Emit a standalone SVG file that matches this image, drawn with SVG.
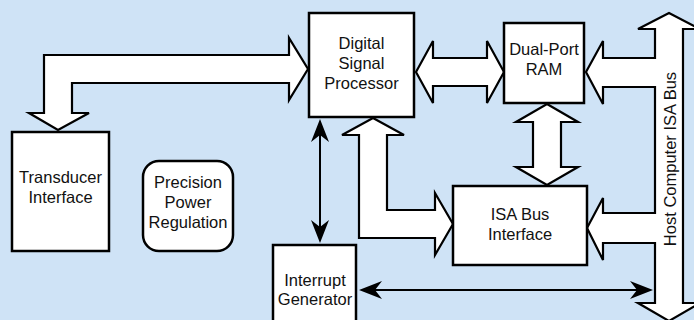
<svg xmlns="http://www.w3.org/2000/svg" width="694" height="320" viewBox="0 0 694 320">
<defs>
<style>
.box{fill:#fff;stroke:#000;stroke-width:2.5}
.bus{fill:#fff;stroke:#000;stroke-width:2.2;stroke-linejoin:miter}
.t{font-family:"Liberation Sans",Arial,sans-serif;font-size:16.5px;fill:#111;text-anchor:middle}
.thin{stroke:#000;stroke-width:2;fill:none}
</style>
<marker id="ah" viewBox="-24 -10 25 20" markerWidth="25" markerHeight="20" refX="-16" refY="0" markerUnits="userSpaceOnUse" orient="auto-start-reverse">
<path d="M0,0 L-23,-9 L-16,0 L-23,9 Z" fill="#000"/>
</marker>
</defs>
<rect width="694" height="320" fill="#cfe3f6"/>
<g id="connectors">
<polygon class="bus" points="44,113 29,113 58,130 89,113 72,113 72,83 289,83 289,100 308,69 289,38 289,55 44,55"/>
<polygon class="bus" points="416,72 433,41 433,58 487,58 487,41 504,72 487,103 487,86 433,86 433,103"/>
<polygon class="bus" points="547,104 578,122 561,122 561,167 578,167 547,185 516,167 533,167 533,122 516,122"/>
<polygon class="bus" points="373,118 404,135 387,135 387,210 435,210 435,193 453,224 435,255 435,238 359,238 359,135 342,135"/>
<polygon class="bus" points="669,13 700,29 683,29 683,303 700,303 669,321 638,303 655,303 655,243 603,243 603,260 587,228 603,198 603,213 655,213 655,87 603,87 603,104 586,72 603,41 603,58 655,58 655,29 638,29"/>
<line class="thin" x1="320" y1="135" x2="320" y2="227" marker-start="url(#ah)" marker-end="url(#ah)"/>
<line class="thin" x1="375" y1="290" x2="637" y2="290" marker-start="url(#ah)" marker-end="url(#ah)"/>
<text class="t" transform="translate(676,159) rotate(-90)">Host Computer ISA Bus</text>
</g>
<g id="dsp">
<rect class="box" x="309" y="13" width="105" height="104"/>
<text class="t" x="361.5" y="49">Digital</text>
<text class="t" x="361.5" y="69">Signal</text>
<text class="t" x="361.5" y="89">Processor</text>
</g>
<g id="ram">
<rect class="box" x="504" y="23" width="80" height="80"/>
<text class="t" x="544" y="55">Dual-Port</text>
<text class="t" x="544" y="75">RAM</text>
</g>
<g id="transducer">
<rect class="box" x="12" y="132" width="97" height="119"/>
<text class="t" x="60.5" y="183">Transducer</text>
<text class="t" x="60.5" y="203">Interface</text>
</g>
<g id="power">
<rect class="box" x="143" y="161" width="90" height="90" rx="16" ry="16"/>
<text class="t" x="188" y="188">Precision</text>
<text class="t" x="188" y="208">Power</text>
<text class="t" x="188" y="228">Regulation</text>
</g>
<g id="isa">
<rect class="box" x="453" y="186" width="134" height="79"/>
<text class="t" x="520" y="220">ISA Bus</text>
<text class="t" x="520" y="240">Interface</text>
</g>
<g id="interrupt">
<rect class="box" x="273" y="245" width="83" height="82"/>
<text class="t" x="315" y="286">Interrupt</text>
<text class="t" x="315" y="305">Generator</text>
</g>
</svg>
